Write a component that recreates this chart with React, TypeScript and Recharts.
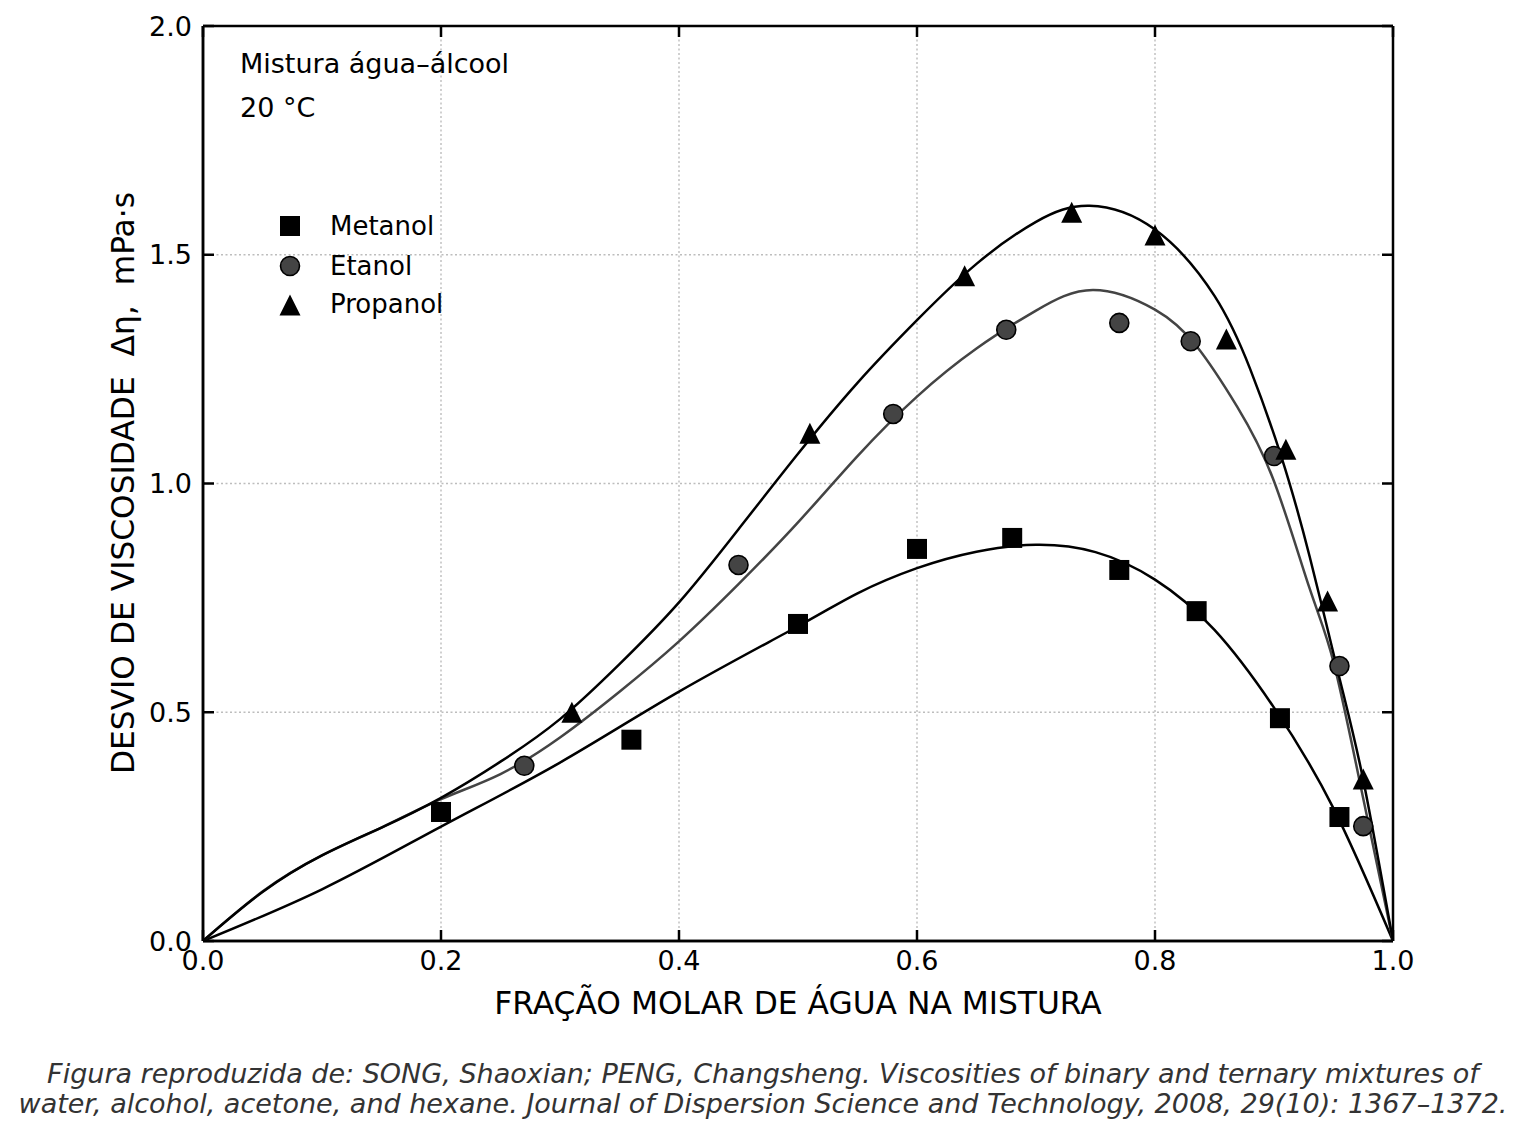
import React from "react";
import {
  ComposedChart,
  Line,
  Scatter,
  XAxis,
  YAxis,
  CartesianGrid,
} from "recharts";

// ---- Measured points (x = water mole fraction, y = Δη in mPa·s) ----
const metanolPoints: [number, number][] = [
  [0.2, 0.282], [0.36, 0.44], [0.5, 0.693], [0.6, 0.857], [0.68, 0.881],
  [0.77, 0.811], [0.835, 0.721], [0.905, 0.487], [0.955, 0.271],
];
const etanolPoints: [number, number][] = [
  [0.27, 0.383], [0.45, 0.822], [0.58, 1.152], [0.675, 1.336], [0.77, 1.351],
  [0.83, 1.311], [0.9, 1.06], [0.955, 0.601], [0.975, 0.251],
];
const propanolPoints: [number, number][] = [
  [0.31, 0.5], [0.51, 1.11], [0.64, 1.454], [0.73, 1.593], [0.8, 1.543],
  [0.86, 1.316], [0.91, 1.075], [0.945, 0.743], [0.975, 0.354],
];

// ---- Fitted curves ----
const metanolCurve: [number, number][] = [
  [0, 0], [0.1, 0.113], [0.2, 0.25], [0.3, 0.39], [0.4, 0.545], [0.5, 0.688],
  [0.55, 0.76], [0.6, 0.815], [0.65, 0.851], [0.7, 0.866], [0.75, 0.85],
  [0.8, 0.79], [0.85, 0.68], [0.9, 0.51], [0.95, 0.29], [1, 0],
];
const etanolCurve: [number, number][] = [
  [0, 0], [0.05, 0.108], [0.1, 0.187], [0.15, 0.248], [0.2, 0.31],
  [0.25, 0.365], [0.3, 0.445], [0.35, 0.545], [0.4, 0.655], [0.45, 0.78],
  [0.5, 0.915], [0.55, 1.06], [0.6, 1.19], [0.65, 1.295], [0.7, 1.378],
  [0.748, 1.423], [0.8, 1.38], [0.835, 1.3], [0.869, 1.168], [0.9, 1.005],
  [0.93, 0.77], [0.95, 0.61], [0.9735, 0.33], [1, 0],
];
const propanolCurve: [number, number][] = [
  [0, 0], [0.05, 0.107], [0.1, 0.187], [0.15, 0.248], [0.2, 0.313],
  [0.25, 0.392], [0.3, 0.485], [0.35, 0.605], [0.4, 0.74], [0.45, 0.9],
  [0.5, 1.065], [0.55, 1.22], [0.6, 1.357], [0.65, 1.48], [0.7, 1.572],
  [0.745, 1.607], [0.8, 1.555], [0.85, 1.41], [0.88, 1.25], [0.906, 1.06],
  [0.93, 0.84], [0.955, 0.575], [0.975, 0.352], [1, 0],
];

const xTicks = [0, 0.2, 0.4, 0.6, 0.8, 1.0];
const yTicks = [0, 0.5, 1.0, 1.5, 2.0];

const seriesNames = ["Metanol", "Etanol", "Propanol"];

const toObj = (arr: [number, number][]) => arr.map(([x, y]) => ({ x, y }));

const FONT = "'DejaVu Sans', sans-serif";
const FRAME = { stroke: "#000", strokeWidth: 2.5 };

const SquareShape = (p: any) => (
  <rect x={p.cx - 10} y={p.cy - 10} width={20} height={20} fill="#000" />
);
const CircleShape = (p: any) => (
  <circle cx={p.cx} cy={p.cy} r={9.5} fill="#444" stroke="#000" strokeWidth={1.6} />
);
const TriangleShape = (p: any) => (
  <polygon
    points={`${p.cx},${p.cy - 10.5} ${p.cx - 10.5},${p.cy + 10.5} ${p.cx + 10.5},${p.cy + 10.5}`}
    fill="#000"
  />
);

const fmt = (v: number) => v.toFixed(1);
const blank = () => "";

export default function App() {
  const W = 1510;
  const H = 1000;
  return (
    <div style={{ position: "relative", width: W, height: 1118, fontFamily: FONT, background: "#fff" }}>
      <ComposedChart
        width={W}
        height={H}
        margin={{ top: 18, right: 125, bottom: 7, left: 135 }}
      >
        <CartesianGrid
          stroke="#bdbdbd"
          strokeWidth={1.4}
          strokeDasharray="2 2.5"
          xAxisId="b"
          yAxisId="l"
        />
        {/* labelled axes */}
        <XAxis
          xAxisId="b"
          dataKey="x"
          type="number"
          domain={[0, 1]}
          ticks={xTicks}
          tickFormatter={fmt}
          allowDataOverflow
          height={60}
          tickSize={0}
          tickMargin={10}
          tickLine={false}
          axisLine={FRAME}
          tick={{ fill: "#000", fontSize: 27, fontFamily: FONT }}
        />
        <YAxis
          yAxisId="l"
          type="number"
          domain={[0, 2]}
          ticks={yTicks}
          tickFormatter={fmt}
          allowDataOverflow
          width={60}
          tickSize={0}
          tickMargin={11}
          tickLine={false}
          axisLine={FRAME}
          tick={{ fill: "#000", fontSize: 27, fontFamily: FONT }}
        />
        {/* mirrored axes: inward tick marks on all four sides */}
        <XAxis
          xAxisId="bm"
          dataKey="x"
          type="number"
          mirror
          domain={[0, 1]}
          ticks={xTicks}
          tickFormatter={blank}
          allowDataOverflow
          height={20}
          tickSize={11}
          axisLine={FRAME}
          tickLine={FRAME}
        />
        <XAxis
          xAxisId="t"
          orientation="top"
          dataKey="x"
          type="number"
          mirror
          domain={[0, 1]}
          ticks={xTicks}
          tickFormatter={blank}
          allowDataOverflow
          height={20}
          tickSize={11}
          axisLine={FRAME}
          tickLine={FRAME}
        />
        <YAxis
          yAxisId="lm"
          type="number"
          mirror
          domain={[0, 2]}
          ticks={yTicks}
          tickFormatter={blank}
          allowDataOverflow
          width={20}
          tickSize={11}
          axisLine={FRAME}
          tickLine={FRAME}
        />
        <YAxis
          yAxisId="r"
          orientation="right"
          type="number"
          mirror
          domain={[0, 2]}
          ticks={yTicks}
          tickFormatter={blank}
          allowDataOverflow
          width={20}
          tickSize={11}
          axisLine={FRAME}
          tickLine={FRAME}
        />

        <Line
          xAxisId="b"
          yAxisId="l"
          data={toObj(metanolCurve)}
          dataKey="y"
          type="natural"
          stroke="#000"
          strokeWidth={2.5}
          dot={false}
          activeDot={false}
          isAnimationActive={false}
          legendType="none"
        />
        <Line
          xAxisId="bm"
          yAxisId="lm"
          data={toObj(etanolCurve)}
          dataKey="y"
          type="natural"
          stroke="#444"
          strokeWidth={2.5}
          dot={false}
          activeDot={false}
          isAnimationActive={false}
          legendType="none"
        />
        <Line
          xAxisId="t"
          yAxisId="r"
          data={toObj(propanolCurve)}
          dataKey="y"
          type="natural"
          stroke="#000"
          strokeWidth={2.5}
          dot={false}
          activeDot={false}
          isAnimationActive={false}
          legendType="none"
        />
        <Scatter
          xAxisId="b"
          yAxisId="l"
          name={seriesNames[0]}
          data={toObj(metanolPoints)}
          dataKey="y"
          shape={SquareShape}
          isAnimationActive={false}
        />
        <Scatter
          xAxisId="b"
          yAxisId="l"
          name={seriesNames[1]}
          data={toObj(etanolPoints)}
          dataKey="y"
          shape={CircleShape}
          isAnimationActive={false}
        />
        <Scatter
          xAxisId="b"
          yAxisId="l"
          name={seriesNames[2]}
          data={toObj(propanolPoints)}
          dataKey="y"
          shape={TriangleShape}
          isAnimationActive={false}
        />
      </ComposedChart>

      {/* annotations */}
      <div style={{ position: "absolute", left: 232, top: 42, fontSize: 27, lineHeight: 1, whiteSpace: "nowrap", color: "#000" }}>
        Mistura água–álcool
      </div>
      <div style={{ position: "absolute", left: 232, top: 86, fontSize: 27, lineHeight: 1, whiteSpace: "nowrap", color: "#000" }}>
        20 °C
      </div>

      {/* legend */}
      <svg style={{ position: "absolute", left: 262, top: 190 }} width={220} height={130}>
        <rect x={10} y={18} width={20} height={20} fill="#000" />
        <text x={60} y={37} fontSize={26} fontFamily={FONT} fill="#000">{seriesNames[0]}</text>
        <circle cx={20} cy={68} r={9.5} fill="#444" stroke="#000" strokeWidth={1.6} />
        <text x={60} y={77} fontSize={26} fontFamily={FONT} fill="#000">{seriesNames[1]}</text>
        <polygon points="20,96.5 9.5,117.5 30.5,117.5" fill="#000" />
        <text x={60} y={115} fontSize={26} fontFamily={FONT} fill="#000">{seriesNames[2]}</text>
      </svg>

      {/* axis titles */}
      <div
        style={{
          position: "absolute",
          left: 790,
          top: 980,
          transform: "translateX(-50%)",
          fontSize: 31.3,
          lineHeight: 1,
          whiteSpace: "nowrap",
          color: "#000",
        }}
      >
        FRAÇÃO MOLAR DE ÁGUA NA MISTURA
      </div>
      <div
        style={{
          position: "absolute",
          left: 116,
          top: 475,
          transform: "translate(-50%, -50%) rotate(-90deg)",
          fontSize: 31.3,
          lineHeight: 1,
          whiteSpace: "nowrap",
          color: "#000",
        }}
      >
        DESVIO DE VISCOSIDADE&nbsp;&nbsp;Δη,&nbsp;&nbsp;mPa·s
      </div>

      {/* caption */}
      <div
        style={{
          position: "absolute",
          left: -8,
          width: 1526,
          top: 1051,
          textAlign: "center",
          fontSize: 27,
          lineHeight: "29.5px",
          fontStyle: "italic",
          color: "#333",
        }}
      >
        Figura reproduzida de: SONG, Shaoxian; PENG, Changsheng. Viscosities of binary and ternary mixtures of
        <br />
        water, alcohol, acetone, and hexane. Journal of Dispersion Science and Technology, 2008, 29(10): 1367–1372.
      </div>
    </div>
  );
}
